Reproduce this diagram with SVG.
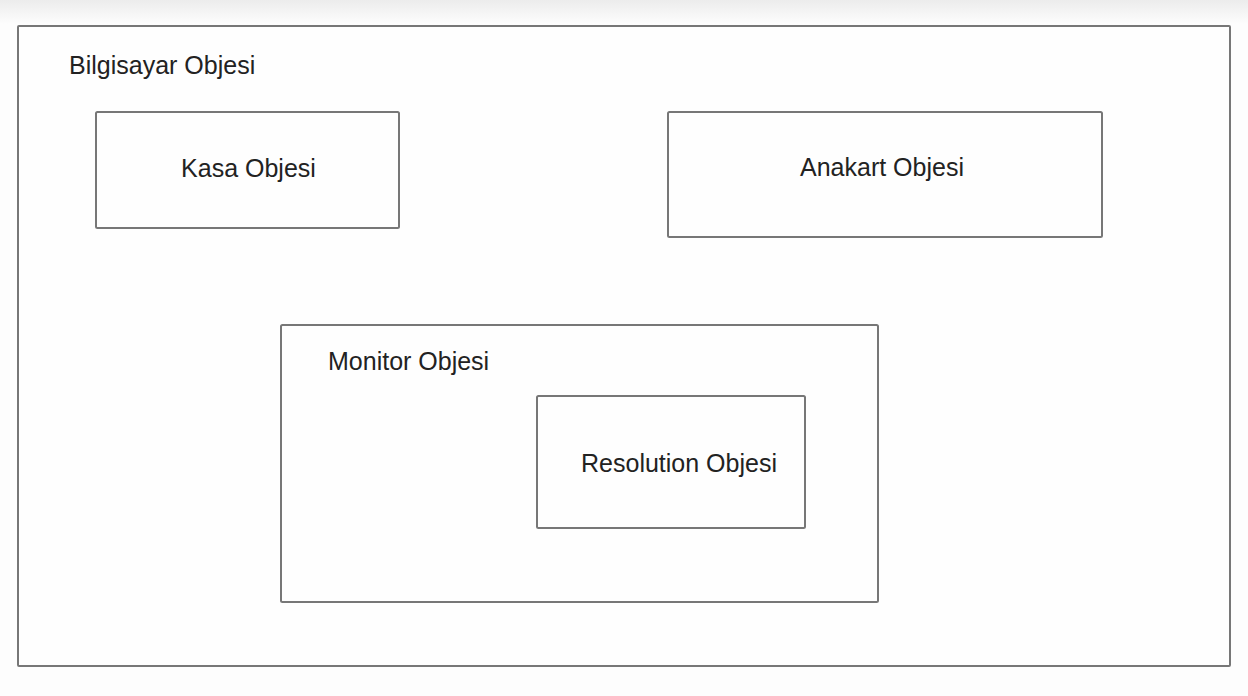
<svg xmlns="http://www.w3.org/2000/svg" width="1248" height="696" viewBox="0 0 1248 696">
<defs>
<linearGradient id="bg" x1="0" y1="0" x2="0" y2="1">
<stop offset="0" stop-color="#ececec"/>
<stop offset="1" stop-color="#fdfdfd"/>
</linearGradient>
<style>
.box{fill:#fefefe;stroke:#777;stroke-width:2}
.lbl{font-family:"Liberation Sans",Arial,sans-serif;font-size:25px;fill:#222}
.c{text-anchor:middle}
</style>
</defs>
<rect x="0" y="0" width="1248" height="696" fill="#fdfdfd"/>
<rect x="0" y="0" width="1248" height="24" fill="url(#bg)"/>
<g id="bilgisayar">
<rect class="box" x="18" y="26" width="1212" height="640" rx="1"/>
<text class="lbl" x="69" y="74">Bilgisayar Objesi</text>
</g>
<g id="kasa">
<rect class="box" x="96" y="112" width="303" height="116" rx="1.5"/>
<text class="lbl c" x="248.5" y="177">Kasa Objesi</text>
</g>
<g id="anakart">
<rect class="box" x="668" y="112" width="434" height="125" rx="1.5"/>
<text class="lbl c" x="882" y="176">Anakart Objesi</text>
</g>
<g id="monitor">
<rect class="box" x="281" y="325" width="597" height="277" rx="1.5"/>
<text class="lbl" x="328" y="370">Monitor Objesi</text>
</g>
<g id="resolution">
<rect class="box" x="537" y="396" width="268" height="132" rx="1.5"/>
<text class="lbl c" x="679" y="472">Resolution Objesi</text>
</g>
<g id="connectors"></g>
</svg>
